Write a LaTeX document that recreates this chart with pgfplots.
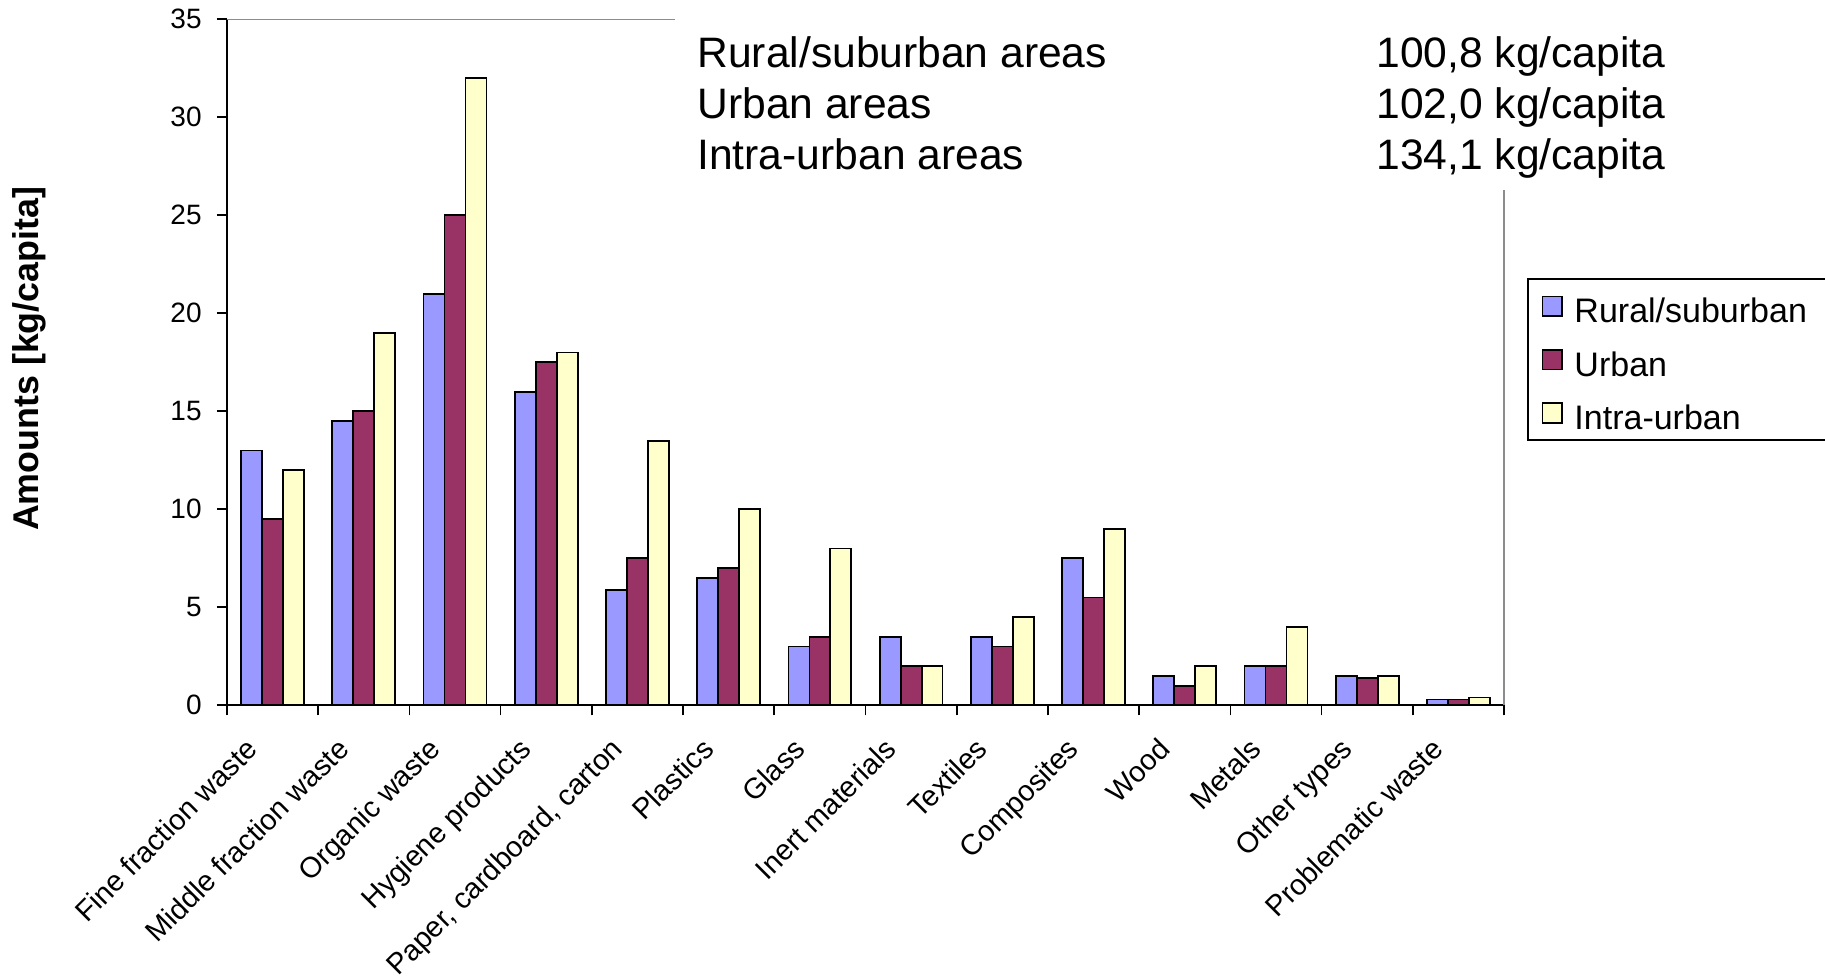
\documentclass[border=0pt]{standalone}
\usepackage{fontspec}
\setmainfont{Liberation Sans}
\usepackage{pgfplots}
\pgfplotsset{compat=1.18}

\definecolor{rural}{HTML}{9999FF}
\definecolor{urban}{HTML}{993366}
\definecolor{intra}{HTML}{FFFFCC}
\definecolor{framegray}{HTML}{8C8C8C}

\pgfplotsset{
  sq legend/.style={
    legend image code/.code={
      \draw[##1, line width=0.8pt] (0pt,-4.9pt) rectangle (9.8pt,4.9pt);
      \path (15.6pt,0pt);
    }
  }
}

\begin{document}
\begin{tikzpicture}
\useasboundingbox (-113.5pt,-136.35pt) rectangle (799pt,352.65pt);
\begin{axis}[
  at={(0,0)}, anchor=south west,
  scale only axis, width=638.5pt, height=343pt,
  xmin=-0.5, xmax=13.5, ymin=0, ymax=35,
  axis x line*=bottom, axis y line*=left,
  axis line style={line width=0.85pt, black},
  xtick={-0.5,0.5,...,13.5},
  x tick label as interval,
  xticklabels={Fine fraction waste, Middle fraction waste, Organic waste,
    Hygiene products, {Paper, cardboard, carton}, Plastics, Glass,
    Inert materials, Textiles, Composites, Wood, Metals, Other types,
    Problematic waste},
  ytick={0,5,...,35},
  tick align=outside,
  major tick length=5pt,
  tick style={line width=0.85pt, black},
  /pgf/number format/assume math mode=true,
  yticklabel style={font=\fontsize{14}{16}\selectfont, anchor=east, inner sep=0pt, xshift=-7.5pt},
  xticklabel style={font=\fontsize{14.5}{16}\selectfont, xshift=-14.1pt, yshift=-10.2pt,
    rotate=45, anchor=north east, inner sep=0pt},
  ylabel={Amounts [kg/capita]},
  ylabel style={font=\fontsize{17.9}{20}\selectfont\bfseries, at={(axis description cs:-0.155,0.505)}, anchor=center},
  ybar=0pt, bar width=0.23,
  legend style={
    at={(1.0183,0.6224)}, anchor=north west,
    draw=black, line width=0.8pt,
    inner xsep=6.7pt, inner ysep=0.15pt, row sep=0pt,
    nodes={inner xsep=0pt, inner ysep=0pt, text height=21.6pt, text depth=5.1pt,
      font=\fontsize{17}{20}\selectfont},
  },
  legend cell align=left,
]
\addplot[fill=rural, draw=black, line width=0.9pt, bar shift=-0.23, sq legend] coordinates {
  (0,13) (1,14.5) (2,21) (3,16) (4,5.9) (5,6.5) (6,3) (7,3.5)
  (8,3.5) (9,7.5) (10,1.5) (11,2) (12,1.5) (13,0.3)
};
\addlegendentry{Rural/suburban\hspace*{6pt}}
\addplot[fill=urban, draw=black, line width=0.9pt, bar shift=0, sq legend] coordinates {
  (0,9.5) (1,15) (2,25) (3,17.5) (4,7.5) (5,7) (6,3.5) (7,2)
  (8,3) (9,5.5) (10,1) (11,2) (12,1.4) (13,0.3)
};
\addlegendentry{Urban}
\addplot[fill=intra, draw=black, line width=0.9pt, bar shift=0.23, sq legend] coordinates {
  (0,12) (1,19) (2,32) (3,18) (4,13.5) (5,10) (6,8) (7,2)
  (8,4.5) (9,9) (10,2) (11,4) (12,1.5) (13,0.4)
};
\addlegendentry{Intra-urban}
\end{axis}

% remaining parts of the plot-area border, partly hidden by the totals box
\draw[framegray, line width=0.7pt] (0pt,343pt) -- (224pt,343pt);
\draw[framegray, line width=0.9pt] (638.5pt,0pt) -- (638.5pt,257.6pt);

% per-capita totals
\begin{scope}[every node/.style={anchor=base west, inner sep=0pt, font=\fontsize{21.3}{25}\selectfont}]
\node at (235pt,318.9pt) {Rural/suburban areas};
\node at (235pt,293.3pt) {Urban areas};
\node at (235pt,267.7pt) {Intra-urban areas};
\node at (574.5pt,318.9pt) {100,8 kg/capita};
\node at (574.5pt,293.3pt) {102,0 kg/capita};
\node at (574.5pt,267.7pt) {134,1 kg/capita};
\end{scope}
\end{tikzpicture}
\end{document}
